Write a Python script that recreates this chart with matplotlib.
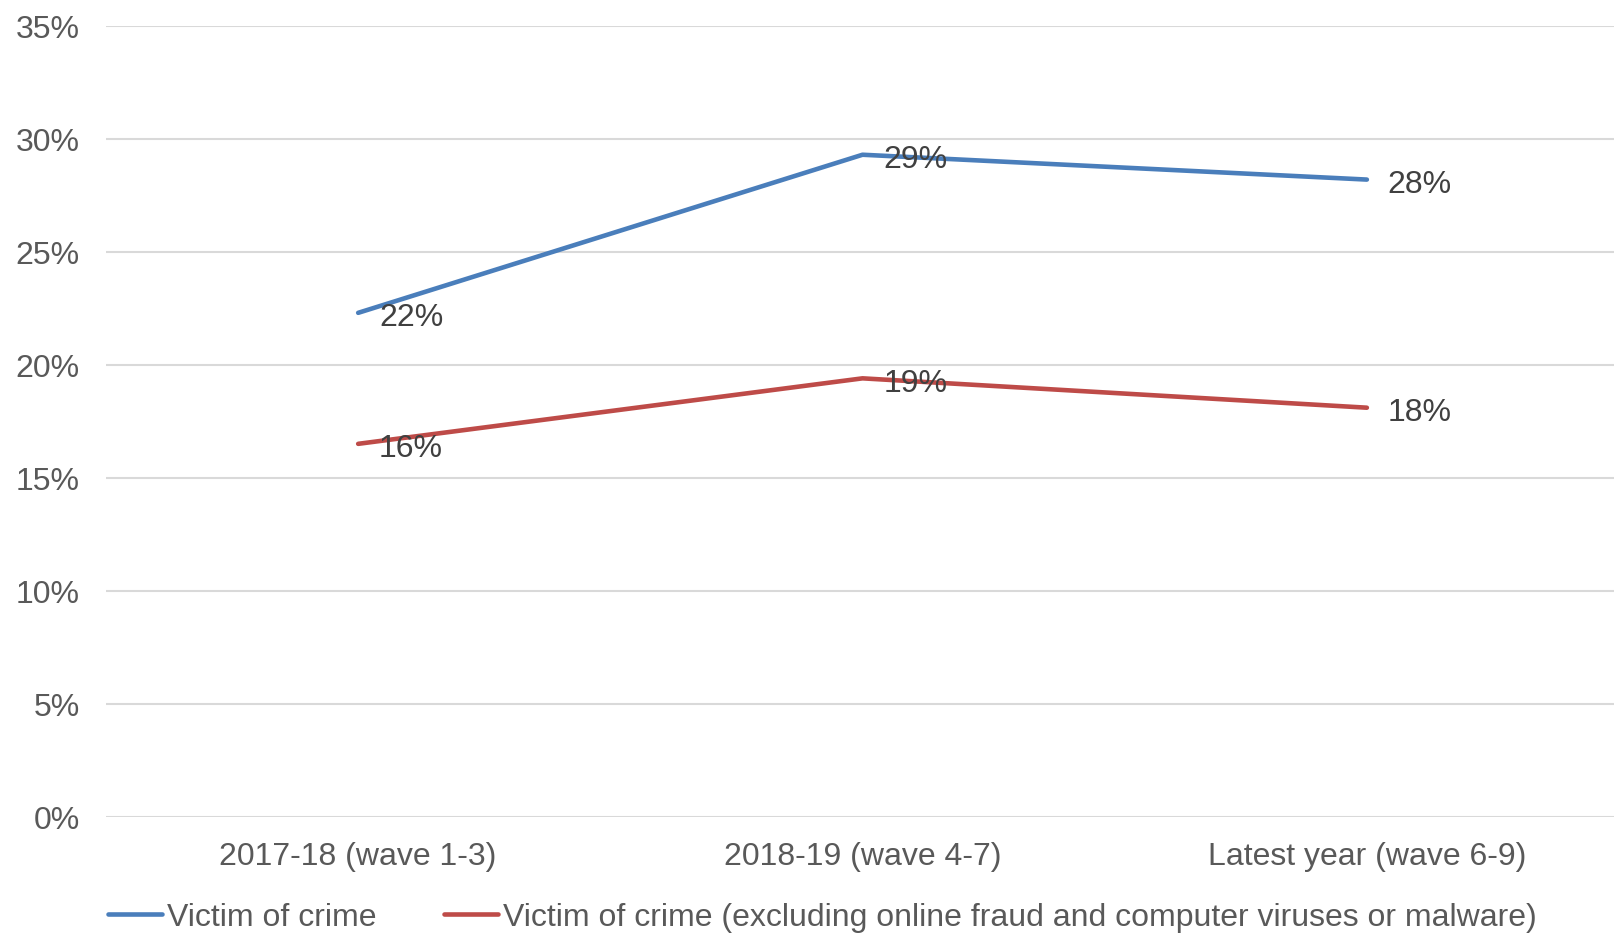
import matplotlib.pyplot as plt
from matplotlib.lines import Line2D

# Datos
categorias = ['2017-18 (wave 1-3)', '2018-19 (wave 4-7)', 'Latest year (wave 6-9)']
victima = [22.3, 29.3, 28.2]
victima_excl = [16.5, 19.4, 18.1]
etiquetas_victima = ['22%', '29%', '28%']
etiquetas_excl = ['16%', '19%', '18%']
nombres = ['Victim of crime',
           'Victim of crime (excluding online fraud and computer viruses or malware)']
ticks_y = [0, 5, 10, 15, 20, 25, 30, 35]

plt.rcParams['font.family'] = ['Liberation Sans', 'DejaVu Sans']

azul = '#4a7ebb'
rojo = '#be4b48'
fs = 23

fig = plt.figure(figsize=(16.14, 9.37), dpi=100)
ax = fig.add_axes([106 / 1614, 119.5 / 937, 1508 / 1614, 790.5 / 937])

x = range(len(categorias))
ax.plot(x, victima, color=azul, lw=3.3, solid_capstyle='round')
ax.plot(x, victima_excl, color=rojo, lw=3.3, solid_capstyle='round')

# Etiquetas de datos
for xi, v, t in zip(x, victima, etiquetas_victima):
    ax.annotate(t, (xi, v), xytext=(15, -3), textcoords='offset points',
                va='center', ha='left', fontsize=fs, color='#404040')
for xi, v, t in zip(x, victima_excl, etiquetas_excl):
    ax.annotate(t, (xi, v), xytext=(15, -3), textcoords='offset points',
                va='center', ha='left', fontsize=fs, color='#404040')

# Ejes
ax.set_xlim(-0.5, 2.49)
ax.set_ylim(0, 35)
ax.set_xticks(list(x))
ax.set_xticklabels(categorias)
ax.set_yticks(ticks_y)
ax.set_yticklabels([f'{t}%' for t in ticks_y])
ax.tick_params(axis='both', length=0, labelsize=fs, labelcolor='#595959')
ax.tick_params(axis='y', pad=19)
ax.tick_params(axis='x', pad=18)
ax.grid(axis='y', color='#d9d9d9', lw=1.5)
ax.set_axisbelow(True)
for s in ax.spines.values():
    s.set_visible(False)

# Leyenda
handles = [Line2D([0], [0], color=azul, lw=3.3, solid_capstyle='round'),
           Line2D([0], [0], color=rojo, lw=3.3, solid_capstyle='round')]
leg = fig.legend(handles, nombres, loc='center left', ncol=2,
                 bbox_to_anchor=(108 / 1614, 19 / 937), frameon=False,
                 fontsize=fs, handlelength=1.7, handletextpad=0.16,
                 columnspacing=2.1, borderpad=0, borderaxespad=0)
for t in leg.get_texts():
    t.set_color('#595959')

fig.savefig('out.png', dpi=100)
